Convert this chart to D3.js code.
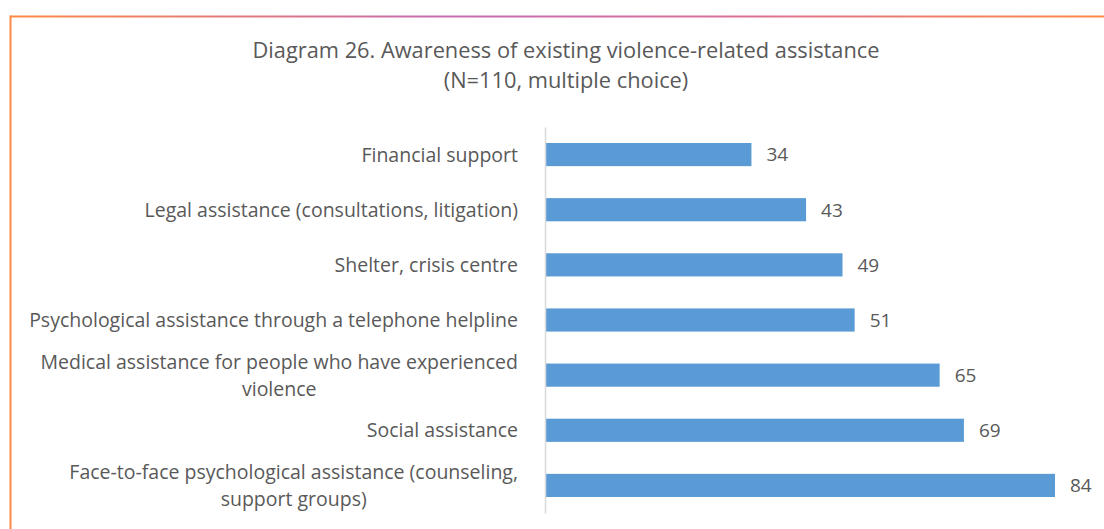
<!DOCTYPE html>
<html>
<head>
<meta charset="utf-8">
<script src="https://cdn.jsdelivr.net/npm/d3@7"></script>
<style>
  html, body { margin: 0; padding: 0; background: #fff; }
  svg { display: block; }
  text { font-family: "Open Sans", "Noto Sans", sans-serif; fill: #595959; }
</style>
</head>
<body>
<svg id="chart" width="1104" height="529"></svg>
<script>
// Awareness of existing violence-related assistance (number of respondents)
const categories = [
  "Financial support",
  "Legal assistance (consultations, litigation)",
  "Shelter, crisis centre",
  "Psychological assistance through a telephone helpline",
  "Medical assistance for people who have experienced violence",
  "Social assistance",
  "Face-to-face psychological assistance (counseling, support groups)"
];
const labelLines = [
  ["Financial support"],
  ["Legal assistance (consultations, litigation)"],
  ["Shelter, crisis centre"],
  ["Psychological assistance through a telephone helpline"],
  ["Medical assistance for people who have experienced", "violence"],
  ["Social assistance"],
  ["Face-to-face psychological assistance (counseling,", "support groups)"]
];
const values = [34, 43, 49, 51, 65, 69, 84];
const titleLines = [
  "Diagram 26. Awareness of existing violence-related assistance",
  "(N=110, multiple choice)"
];

const W = 1104, H = 529;
const svg = d3.select("#chart");

// frame: gradient top rule and orange left rule
const defs = svg.append("defs");
const grad = defs.append("linearGradient").attr("id", "frameGrad")
  .attr("x1", "0%").attr("x2", "100%").attr("y1", "0%").attr("y2", "0%");
grad.append("stop").attr("offset", "0%").attr("stop-color", "#ff8a45");
grad.append("stop").attr("offset", "40%").attr("stop-color", "#c66bb3");
grad.append("stop").attr("offset", "65%").attr("stop-color", "#d9709a");
grad.append("stop").attr("offset", "100%").attr("stop-color", "#ff8a45");
svg.append("rect").attr("x", 10).attr("y", 15.5).attr("width", W - 10).attr("height", 2)
  .attr("fill", "url(#frameGrad)");
svg.append("rect").attr("x", 9.5).attr("y", 15.5).attr("width", 2).attr("height", H - 15.5)
  .attr("fill", "#ff8a45");

// title
const title = svg.append("text")
  .attr("text-anchor", "middle")
  .attr("x", 566)
  .style("font-size", "21.8px");
title.selectAll("tspan").data(titleLines).join("tspan")
  .attr("x", 566)
  .attr("y", (d, i) => 58 + i * 30)
  .text(d => d);

// scales
const x = d3.scaleLinear().domain([0, 84]).range([545, 1055]);
const y = d3.scaleBand().domain(categories).range([127, 513])
  .paddingInner(0.58).paddingOuter(0.29);

// bars
svg.append("g").selectAll("rect").data(values).join("rect")
  .attr("x", x(0))
  .attr("y", (d, i) => y(categories[i]))
  .attr("width", d => x(d) - x(0))
  .attr("height", y.bandwidth())
  .attr("fill", "#5b9bd5");

// value labels
svg.append("g").selectAll("text").data(values).join("text")
  .attr("x", d => x(d) + 15)
  .attr("y", (d, i) => y(categories[i]) + y.bandwidth() / 2)
  .attr("dy", "0.36em")
  .style("font-size", "19px")
  .text(d => d);

// category axis
const axis = svg.append("g").attr("transform", `translate(${x(0)},0)`)
  .call(d3.axisLeft(y).tickSize(0).tickFormat(""));
axis.select(".domain").attr("stroke", "#d9d9d9").attr("stroke-width", 1.5);

const lab = svg.append("g").selectAll("text").data(categories).join("text")
  .attr("text-anchor", "middle")
  .style("font-size", "19.5px");
lab.each(function(c, i) {
  const lines = labelLines[i];
  const cy = y(c) + y.bandwidth() / 2;
  const t = d3.select(this);
  const lh = 27;
  const y0 = cy - (lines.length - 1) * lh / 2;
  t.selectAll("tspan").data(lines).join("tspan")
    .attr("y", (d, k) => y0 + k * lh)
    .attr("dy", "0.36em")
    .text(d => d);
});
// the widest line of each label ends at x=518; shorter lines are centred under it
lab.each(function() {
  const t = d3.select(this);
  const widths = [];
  t.selectAll("tspan").each(function() { widths.push(this.getComputedTextLength()); });
  const wmax = d3.max(widths);
  t.selectAll("tspan").attr("x", 518 - wmax / 2);
});
</script>
</body>
</html>
